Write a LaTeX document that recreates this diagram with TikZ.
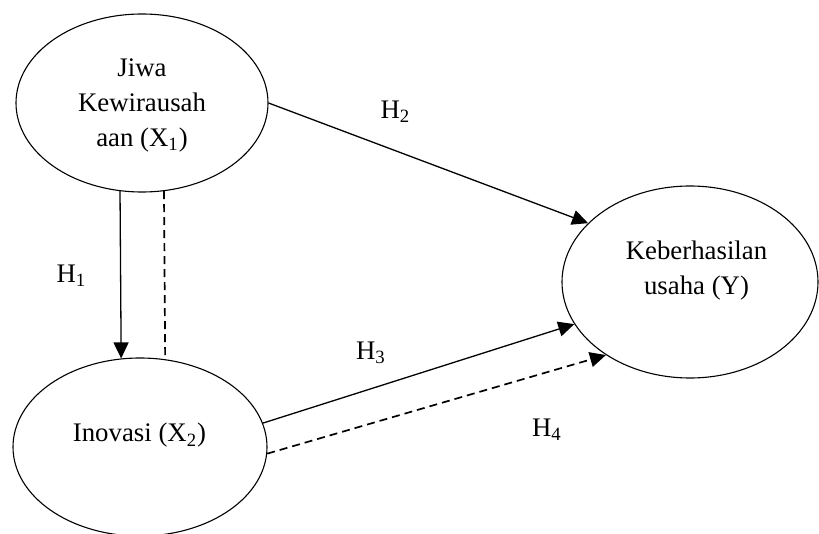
\documentclass[tikz,border=0pt]{standalone}
\usepackage{fontspec}
\setmainfont{Liberation Serif}
\usetikzlibrary{arrows.meta,shapes.geometric}
\begin{document}
\begin{tikzpicture}[x=0.5pt,y=-0.5pt,
  latent/.style={draw, ellipse, line width=0.55pt, inner sep=0pt},
  conn/.style={line width=0.65pt, -{Triangle[length=8pt,width=7.5pt]}},
  dashline/.style={line width=0.85pt, dash pattern=on 4pt off 2.5pt},
  dashconn/.style={conn, line width=0.85pt, dash pattern=on 4pt off 2.5pt},
  txt/.style={font=\fontsize{13.4}{17.5}\selectfont, inner sep=0pt, align=center}]
\useasboundingbox (0,0) rectangle (819,534);
% ellipses
\node[latent, minimum width=126pt, minimum height=89pt] (x1) at (142,103) {};
\node[latent, minimum width=127pt, minimum height=89pt] (x2) at (140,447) {};
\node[latent, minimum width=128pt, minimum height=96pt] (y) at (690,282) {};
% texts
\node[txt] (t1) at (142,105.5) {Jiwa\\Kewirausah\\aan (X\textsubscript{1})};
\node[txt] (t2) at (139.5,435.5) {Inovasi (X\textsubscript{2})};
\node[txt] (t3) at (696.5,271) {Keberhasilan\\usaha (Y)};
% labels
\node[txt] (h1) at (71.5,276) {H\textsubscript{1}};
\node[txt] (h2) at (395.5,112) {H\textsubscript{2}};
\node[txt] (h3) at (371,353) {H\textsubscript{3}};
\node[txt] (h4) at (547,430) {H\textsubscript{4}};
% connectors
\draw[conn] (x1.256) -- (x2.102.7);
\draw[dashline] (x1.284.5) -- (x2.74.3);
\draw[conn] (x1.0) -- (y.150.7);
\draw[conn] (x2.11) -- (y.200.6);
\draw[dashconn] (x2.-3) -- (y.221.5);
\end{tikzpicture}
\end{document}
